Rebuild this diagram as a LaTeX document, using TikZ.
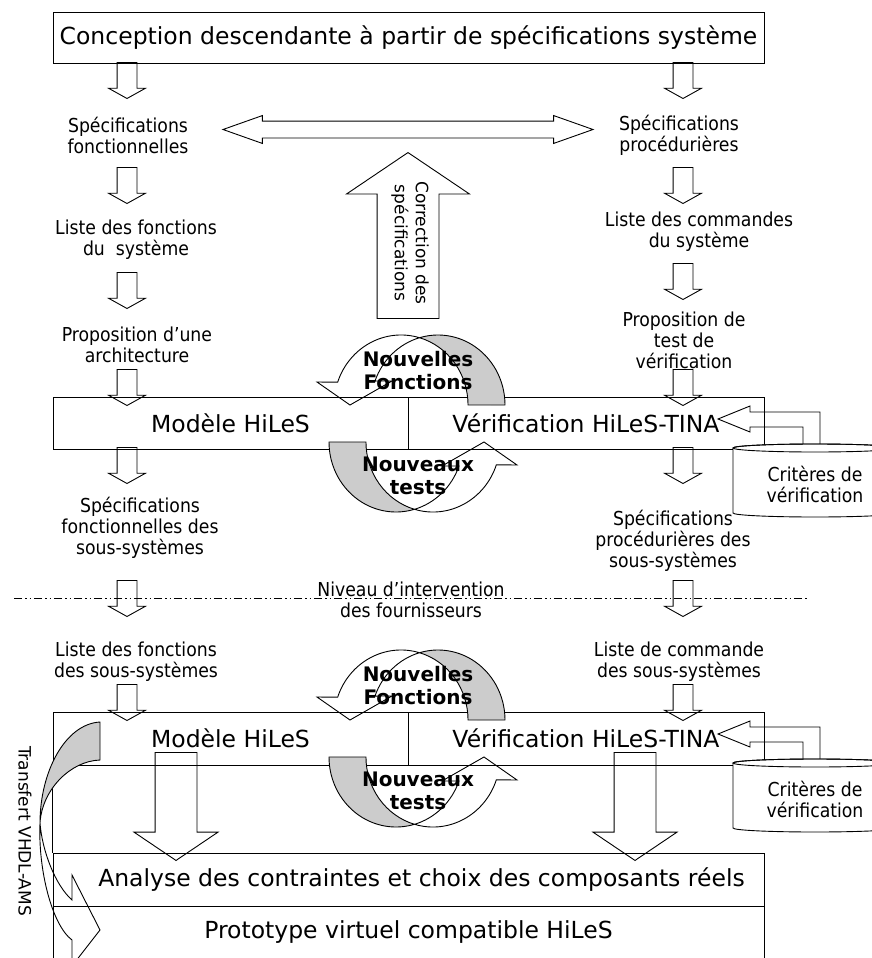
\documentclass[tikz,border=0pt]{standalone}
\usepackage{fontspec}
\setmainfont{DejaVu Sans}
\newfontfamily\condfont{DejaVu Sans Condensed}
\usetikzlibrary{shapes.arrows}
\definecolor{ribbon}{RGB}{204,204,204}
\tikzset{
  box/.style={draw, fill=white, minimum height=52pt, inner sep=0pt,
    font=\fontsize{23.5}{27}\selectfont},
  lbl/.style={align=center, inner sep=0pt, font=\condfont\fontsize{19.2}{21}\selectfont},
  loopname/.style={align=center, inner sep=0pt, font=\bfseries\fontsize{20}{23}\selectfont},
  sidename/.style={align=center, inner sep=0pt, rotate=-90, font=\fontsize{17}{21}\selectfont},
  smalldown/.style={single arrow, draw, anchor=tip, shape border rotate=270,
    inner sep=9.5pt, minimum height=36pt, single arrow head extend=8.5pt,
    single arrow tip angle=122},
  bigdown/.style={single arrow, draw, anchor=tip, shape border rotate=270,
    inner sep=20.5pt, minimum height=108pt, single arrow head extend=21pt,
    single arrow tip angle=112},
  twist/.pic={
    \draw (-79.35,-41.3) arc[start angle=199, end angle=286, x radius=67, y radius=70]
      arc[start angle=254, end angle=200, x radius=67, y radius=70]
      -- (-25,-42.5) -- (-67,-18.5) -- (-100,-41.5) -- cycle;
    \filldraw[fill=ribbon] (2.5,-85.8) arc[start angle=286, end angle=360, x radius=67, y radius=70]
      -- (88,-18.5) arc[start angle=0, end angle=-106, x radius=67, y radius=70] -- cycle;
  },
  tank/.pic={
    \draw (5,0) -- (5,-36) -- (-65,-36) -- (-65,-42) -- (-97,-29) -- (-65,-16)
      -- (-65,-21) -- (-12,-21) -- (-12,0);
    \filldraw[fill=white] (-82,0) -- (-82,65)
      arc[start angle=180, end angle=0, x radius=82, y radius=4] -- (82,0)
      arc[start angle=0, end angle=-180, x radius=82, y radius=4] -- cycle;
    \draw (0,0) ellipse[x radius=82, y radius=4];
  }
}
\begin{document}
\begin{tikzpicture}[x=1pt, y=-1pt, line width=0.9pt]
  \useasboundingbox (0,0) rectangle (872,958);
  \clip (0,0) rectangle (872,958);
  % bottom stage
  \node[box, minimum width=711pt, minimum height=53pt] (analyse) at (408.5,879.5)
    {\hspace*{26pt}Analyse des contraintes et choix des composants réels};
  \node[box, minimum width=711pt, minimum height=53pt] (proto) at (408.5,932.5)
    {Prototype virtuel compatible HiLeS};
  % HiLeS boxes
  \node[box, minimum width=355pt] (model1) at (230.5,423) {Modèle HiLeS};
  \node[box, minimum width=356pt] (verif1) at (586,423) {Vérification HiLeS-TINA};
  \node[box, minimum width=355pt, minimum height=53pt] (model2) at (230.5,738.5) {Modèle HiLeS};
  \node[box, minimum width=356pt, minimum height=53pt] (verif2) at (586,738.5) {Vérification HiLeS-TINA};
  \draw (model2.south west) -- (analyse.north west);
  \node[box, minimum width=711pt, minimum height=51pt] (concep) at (408.5,37.5)
    {Conception descendante à partir de spécifications système};
  % supplier level
  \draw[line width=0.8pt, dash pattern=on 8pt off 3pt on 1.5pt off 3pt on 1.5pt off 3pt]
    (14,598) -- (807,598);
  % labels
  \node[lbl] (specF) at (128,135) {Spécifications\\fonctionnelles};
  \node[lbl] (specP) at (679,135) {Spécifications\\procédurières};
  \node[lbl] (listF) at (136,240) {Liste des fonctions\\du\ \ système};
  \node[lbl] (listC) at (699,232) {Liste des commandes\\du système};
  \node[lbl] (propA) at (137,345) {Proposition d’une\\architecture};
  \node[lbl] (propT) at (684,340) {Proposition de\\test de\\vérification};
  \node[lbl] (ssF) at (140,528) {Spécifications\\fonctionnelles des\\sous-systèmes};
  \node[lbl] (ssP) at (673,541) {Spécifications\\procédurières des\\sous-systèmes};
  \node[lbl] (niveau) at (411,600) {Niveau d’intervention\\des fournisseurs};
  \node[lbl] (listFss) at (136,662) {Liste des fonctions\\des sous-systèmes};
  \node[lbl] (listCss) at (679,662) {Liste de commande\\des sous-systèmes};
  % small arrows
  \node[smalldown] (l1) at (127,99) {};
  \node[smalldown] (l2) at (127,204) {};
  \node[smalldown] (l3) at (127,309) {};
  \node[smalldown] (l4) at (127,406) {};
  \node[smalldown] (l5) at (127,484) {};
  \node[smalldown] (l6) at (127,617) {};
  \node[smalldown] (l7) at (127,721) {};
  \node[smalldown] (r1) at (683,99) {};
  \node[smalldown] (r2) at (683,204) {};
  \node[smalldown] (r3) at (683,300) {};
  \node[smalldown] (r4) at (683,406) {};
  \node[smalldown] (r5) at (683,484) {};
  \node[smalldown] (r6) at (683,617) {};
  \node[smalldown] (r7) at (683,721) {};
  % big arrows
  \node[double arrow, draw, inner sep=8pt, minimum height=370pt,
    double arrow head extend=5.5pt, double arrow tip angle=39] (link) at (408,129.5) {};
  \node[single arrow, draw, anchor=tip, shape border rotate=90, inner sep=30.5pt,
    minimum height=166pt, single arrow head extend=30.5pt, single arrow tip angle=112]
    (back) at (408,152) {};
  \node[sidename] (correction) at (410,243) {Correction des\\spécifications};
  \node[bigdown] (down1) at (176,861) {};
  \node[bigdown] (down2) at (635,861) {};
  % loops
  \pic at (417,423.5) {twist};
  \pic[rotate=180] at (417,423.5) {twist};
  \pic at (417,738.5) {twist};
  \pic[rotate=180] at (417,738.5) {twist};
  \node[loopname] (nf1) at (418,371) {Nouvelles\\Fonctions};
  \node[loopname] (nt1) at (418,476) {Nouveaux\\tests};
  \node[loopname] (nf2) at (418,686) {Nouvelles\\Fonctions};
  \node[loopname] (nt2) at (418,791) {Nouveaux\\tests};
  % criteria
  \pic at (815,448) {tank};
  \pic at (815,763) {tank};
  \node[lbl] (crit1) at (815,484) {Critères de\\vérification};
  \node[lbl] (crit2) at (815,799) {Critères de\\vérification};
  % VHDL-AMS transfer
  \filldraw[fill=ribbon] (100,722) .. controls (65,724) and (40,772) .. (40,823)
    .. controls (42,790) and (70,761) .. (100,760) -- cycle;
  \draw (40,823) .. controls (42,850) and (55,885) .. (72,900) -- (72,875) -- (100,930)
    -- (72,966) -- (72,940) .. controls (52,925) and (38,870) .. (40,823);
  \node[sidename] (transfert) at (25,831) {Transfert VHDL-AMS};
\end{tikzpicture}
\end{document}
